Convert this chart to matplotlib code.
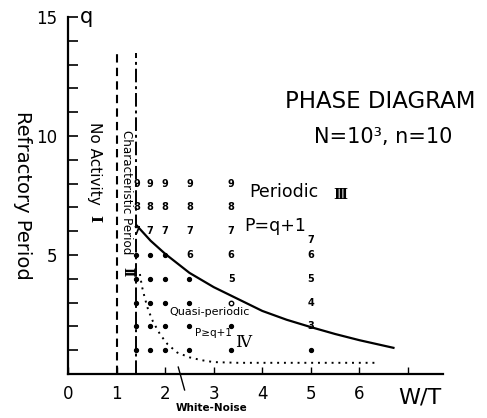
import matplotlib
matplotlib.use("Agg")
import matplotlib.pyplot as plt

# ---- data ----
boundary_x = [1.41, 1.7, 2.0, 2.5, 3.0, 3.5, 4.0, 4.5, 5.0, 5.5, 6.0, 6.7]
boundary_q = [6.25, 5.6, 5.05, 4.25, 3.65, 3.15, 2.65, 2.28, 1.97, 1.68, 1.42, 1.1]

noise_x = [1.48, 1.52, 1.58, 1.65, 1.75, 1.9, 2.05, 2.25, 2.5, 2.75, 3.0, 3.5, 6.4]
noise_q = [4.2, 3.7, 3.2, 2.7, 2.2, 1.65, 1.25, 0.9, 0.7, 0.58, 0.5, 0.47, 0.47]

no_activity_x = 1.0
char_period_x = 1.41
line_top = [13.6, 13.5]

grid_x = [1.41, 1.68, 1.99, 2.5, 3.36, 5.0]
grid_q = [8, 7, 6, 5, 4, 3, 2, 1]
# '.' = dot (no period), 'o' = open circle, '' = nothing, digits = period P
grid_labels = [
    ['9', '9', '9', '9', '9', ''],
    ['8', '8', '8', '8', '8', ''],
    ['7', '7', '7', '7', '7', ''],
    ['.', '.', '.', '6', '6', '6'],
    ['.', '.', '.', '.', '5', '5'],
    ['.', '.', '.', '.', 'o', '4'],
    ['.', '.', '.', '.', '.', '3'],
    ['.', '.', '.', '.', '.', '.'],
]
extra_x = [5.0]
extra_q = [5.65]
extra_labels = ['7']

x_ticks = [0, 1, 2, 3, 4, 5, 6, 7]
x_ticklabels = ['0', '1', '2', '3', '4', '5', '6', '']
y_ticks = list(range(0, 16))
y_ticklabels = ['' if v % 5 or v == 0 else str(v) for v in y_ticks]

# ---- figure ----
fig = plt.figure(figsize=(4.87, 4.18), dpi=100)
ax = fig.add_axes([68/487, 44/418, 375/487, 357/418])
ax.set_xlim(0.04, 7.72)
ax.set_ylim(0, 15)
for s in ['top', 'right']:
    ax.spines[s].set_visible(False)
for s in ['left', 'bottom']:
    ax.spines[s].set_linewidth(1.6)
ax.set_xticks(x_ticks)
ax.set_xticklabels(x_ticklabels)
ax.set_yticks(y_ticks)
ax.set_yticklabels(y_ticklabels)
ax.tick_params(axis='x', direction='in', length=5, width=1, pad=8, labelsize=12)
ax.tick_params(axis='y', direction='in', length=7, width=1.2, pad=8, labelsize=12)

# boundary lines
ax.plot([no_activity_x, no_activity_x], [0, line_top[0]], color='black', lw=1.5,
        linestyle=(0, (4, 2.5)))
ax.plot([char_period_x, char_period_x], [0, line_top[1]], color='black', lw=1.4,
        linestyle=(0, (7, 2, 1.5, 2)))
ax.plot(boundary_x, boundary_q, color='black', lw=1.6)
ax.plot(noise_x, noise_q, color='black', lw=1.4, linestyle=(0, (1, 2.5)))

# grid of simulation results
def mark(x, q, lab):
    if lab == '.':
        ax.plot([x], [q], 'o', color='black', markersize=2.8)
    elif lab == 'o':
        ax.plot([x], [q], 'o', color='black', mfc='white', markersize=3.2, mew=1)
    elif lab:
        ax.text(x, q, lab, ha='center', va='center', fontsize=7,
                fontweight='bold')

for i, q in enumerate(grid_q):
    for j, x in enumerate(grid_x):
        mark(x, q, grid_labels[i][j])
for x, q, lab in zip(extra_x, extra_q, extra_labels):
    mark(x, q, lab)

roman = dict(family='DejaVu Serif', fontweight='bold')

# texts
ax.text(0.25, 15.0, 'q', ha='left', va='center', fontsize=15)
ax.text(7.25, -0.97, 'W/T', ha='center', va='center', fontsize=16, clip_on=False)
fig.text(22/487, 1 - 195/418, 'Refractory Period', rotation=-90, ha='center',
         va='center', fontsize=14)
ax.text(0.55, 8.85, 'No Activity', rotation=-90, ha='center', va='center',
        fontsize=11)
ax.text(0.55, 6.55, 'Ⅰ', rotation=-90, ha='center', va='center', fontsize=11, **roman)
ax.text(1.21, 7.65, 'Characteristic Period', rotation=-90, ha='center',
        va='center', fontsize=8.6)
ax.text(1.21, 4.3, 'Ⅱ', rotation=-90, ha='center', va='center', fontsize=9, **roman)
ax.text(6.43, 11.47, 'PHASE DIAGRAM', ha='center', va='center', fontsize=16.5)
ax.text(6.48, 9.96, 'N=10³, n=10', ha='center', va='center', fontsize=15)
ax.text(4.45, 7.65, 'Periodic', ha='center', va='center', fontsize=12.5)
ax.text(5.61, 7.52, 'Ⅲ', ha='center', va='center', fontsize=10, **roman)
ax.text(4.27, 6.2, 'P=q+1', ha='center', va='center', fontsize=12.5)
ax.text(2.91, 2.6, 'Quasi-periodic', ha='center', va='center', fontsize=8)
ax.text(2.99, 1.72, 'P≥q+1', ha='center', va='center', fontsize=7.5)
ax.text(3.61, 1.34, 'Ⅳ', ha='center', va='center', fontsize=12,
        family='DejaVu Serif')
ax.text(2.95, -1.43, 'White-Noise', ha='center', va='center', fontsize=7.5,
        fontweight='bold', clip_on=False)
ax.plot([2.27, 2.40], [0.29, -0.67], color='black', lw=1, clip_on=False)

fig.savefig('out.png', dpi=100)
